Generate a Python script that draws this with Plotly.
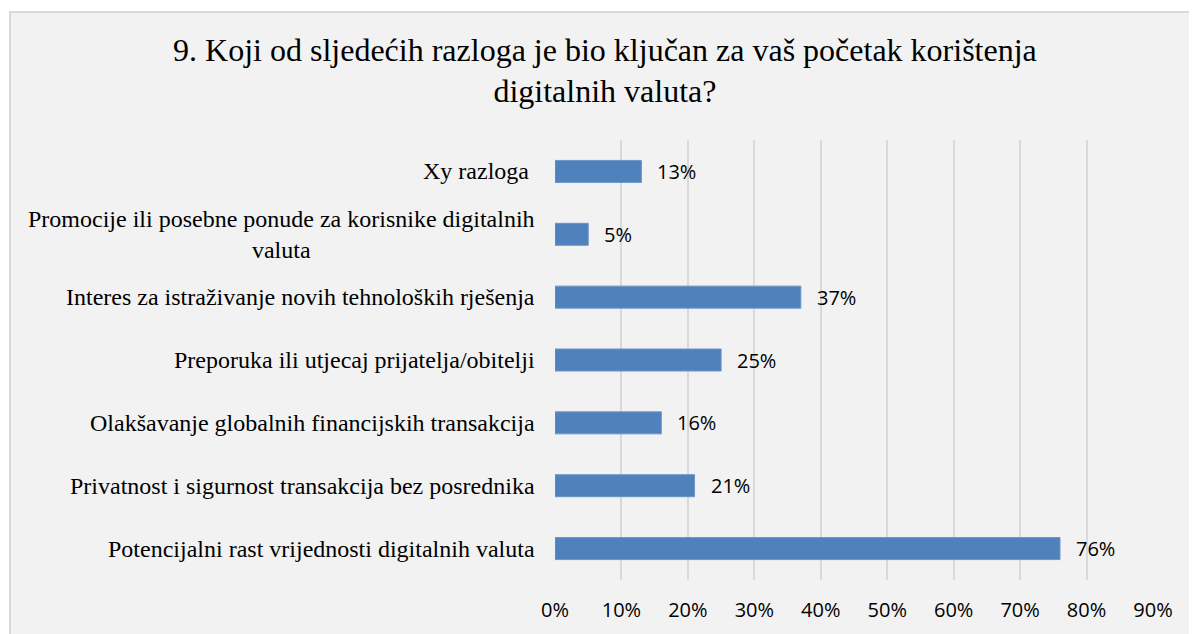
import plotly.graph_objects as go

# categories top to bottom, shares as fractions
reasons = [
    'Xy razloga\u00a0',
    'Promocije ili posebne ponude za korisnike digitalnih<br>valuta',
    'Interes za istraživanje novih tehnoloških rješenja',
    'Preporuka ili utjecaj prijatelja/obitelji',
    'Olakšavanje globalnih financijskih transakcija',
    'Privatnost i sigurnost transakcija bez posrednika',
    'Potencijalni rast vrijednosti digitalnih valuta',
]
shares = [0.13, 0.05, 0.37, 0.25, 0.16, 0.21, 0.76]
x_ticks = [0, 0.1, 0.2, 0.3, 0.4, 0.5, 0.6, 0.7, 0.8, 0.9]

SERIF = 'Liberation Serif'
SANS = 'Open Sans'

fig = go.Figure(go.Bar(
    x=shares, y=reasons, orientation='h',
    marker=dict(color='#4f81bd', line=dict(color='#6d94c8', width=1)),
    hoverinfo='skip',
))

# category labels (centered multi-line, right edge near axis)
for r in reasons:
    fig.add_annotation(x=0, xref='paper', y=r, yref='y', text=r,
                       xanchor='right', xshift=-18, align='center',
                       showarrow=False, font=dict(family=SERIF, size=24, color='#000'))

# value labels
for r, v in zip(reasons, shares):
    fig.add_annotation(x=v, xref='x', y=r, yref='y', text=f'{v:.0%}',
                       xanchor='left', xshift=14, showarrow=False,
                       font=dict(family=SANS, size=20, color='#000'))

# chart frame
fig.add_shape(type='rect', xref='paper', yref='paper',
              x0=-0.9114, x1=1.2, y0=-0.5, y1=1.2909,
              fillcolor='#f2f2f2', line=dict(color='#d9d9d9', width=2),
              layer='below')

fig.update_layout(
    width=1197, height=634,
    margin=dict(l=547, r=52, t=132, b=62),
    paper_bgcolor='white', plot_bgcolor='rgba(0,0,0,0)',
    title=dict(text='9. Koji od sljedećih razloga je bio ključan za vaš početak korištenja<br>digitalnih valuta?',
               x=0.4987, xanchor='center', y=0.917, yanchor='top',
               font=dict(family=SERIF, size=32, color='#000')),
    bargap=0.65,
    showlegend=False,
)
fig.update_xaxes(range=[0, 0.9], tickvals=x_ticks, tickformat='.0%',
                 showgrid=True, gridcolor='#d9d9d9', gridwidth=1.5,
                 zeroline=False, showline=False,
                 ticks='outside', ticklen=12, tickcolor='rgba(0,0,0,0)',
                 tickfont=dict(family=SANS, size=20, color='#000'))
fig.update_yaxes(autorange='reversed', showticklabels=False,
                 showgrid=False, zeroline=False, showline=False)

fig.write_html('out.html')
